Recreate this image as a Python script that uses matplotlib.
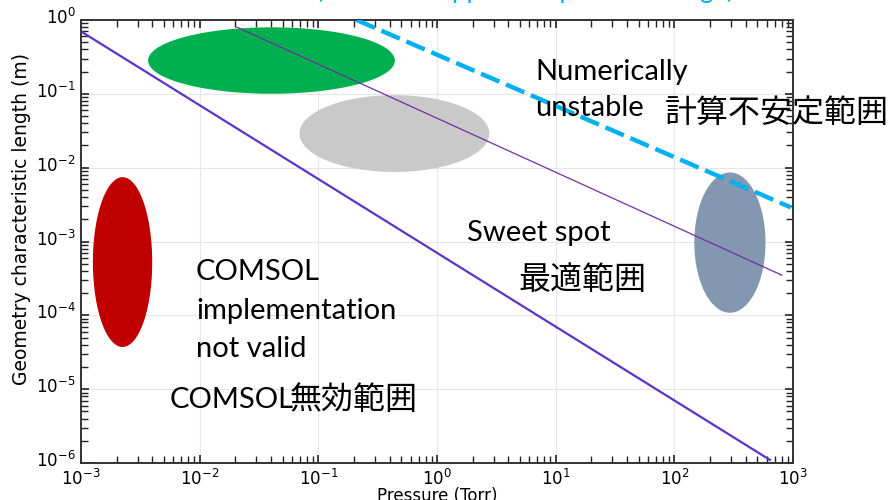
import numpy as np
import matplotlib
matplotlib.use('Agg')
import matplotlib.pyplot as plt
import matplotlib.transforms as mtrans

# ellipse regions: centre (Torr, m) and half axes in decades
region_names = ['not valid', 'large', 'mid', 'high p']
region_cx = [0.00224, 0.0403, 0.4375, 294.0]
region_cy = [5.26e-4, 0.2825, 0.029, 9.66e-4]
region_wdec = [0.25, 1.04, 0.80, 0.30]
region_hdec = [1.15, 0.45, 0.52, 0.95]
region_colors = ['#c00000', '#00b050', '#c9c9c9', '#8497b0']

# boundary lines (pressure in Torr, length in m)
lower_p = [1e-3, 640.0]
lower_L = [0.70, 1.1e-6]
upper_p = [0.0206, 805.0]
upper_L = [0.80, 3.5e-4]
unstable_p = [0.21, 960.0]
unstable_L = [1.0, 2.9e-3]

W, H = 888, 500
fig = plt.figure(figsize=(W / 100, H / 100), dpi=100)
ax = fig.add_axes([81 / W, 1 - 463 / H, (793 - 81) / W, (463 - 20) / H])
ax.set_xscale('log')
ax.set_yscale('log')
ax.set_xlim(1e-3, 1e3)
ax.set_ylim(1e-6, 1e0)

t = np.linspace(0, 2 * np.pi, 200)
for cx, cy, wd, hd, c in zip(region_cx, region_cy, region_wdec, region_hdec, region_colors):
    ex = 10 ** (np.log10(cx) + wd * np.cos(t))
    ey = 10 ** (np.log10(cy) + hd * np.sin(t))
    ax.fill(ex, ey, color=c, lw=0, zorder=2)

ax.plot(lower_p, lower_L, color='#5b35c9', lw=1.6, zorder=3)
ax.plot(upper_p, upper_L, color='#7030a0', lw=0.9, zorder=3)
ax.plot(unstable_p, unstable_L, color='#00b0f0', lw=3.2, dashes=(4.5, 1.6), zorder=3)

ax.grid(True, which='major', color='#e6e6e6', lw=0.8)
ax.set_axisbelow(True)
ax.tick_params(which='both', direction='in', top=True, right=True, color='#222222',
               labelsize=12, pad=4)
ax.tick_params(which='major', length=6, width=1.2)
ax.tick_params(which='minor', length=5, width=1.0)
for s in ax.spines.values():
    s.set_color('#333333')
    s.set_linewidth(1.4)

# y tick labels sit a little above their ticks in the original
shift = mtrans.ScaledTranslation(0, 4 / 100, fig.dpi_scale_trans)
for lab in ax.get_yticklabels():
    lab.set_transform(lab.get_transform() + shift)

ax.set_ylabel('Geometry characteristic length (m)', fontsize=13.5)
ax.yaxis.set_label_coords(-0.07, 0.55)
ax.set_xlabel('Pressure (Torr)', fontsize=12, labelpad=-1,
              family=['Liberation Sans Narrow', 'DejaVu Sans'])


def px(x, y):
    return x / W, 1 - y / H


lat = ['Lato', 'DejaVu Sans']
jp = ['Noto Sans CJK JP', 'DejaVu Sans']
fs_en = 21
fs_jp = 23

fig.text(*px(535, 72), 'Numerically', fontsize=fs_en, family=lat, va='center')
fig.text(*px(535, 108), 'unstable', fontsize=fs_en, family=lat, va='center')
fig.text(*px(665, 113), '計算不安定範囲', fontsize=fs_jp, family=jp, va='center')
fig.text(*px(467, 233), 'Sweet spot', fontsize=fs_en, family=lat, va='center')
fig.text(*px(518, 280), '最適範囲', fontsize=fs_jp, family=jp, va='center')
fig.text(*px(196, 272), 'COMSOL', fontsize=fs_en, family=lat, va='center')
fig.text(*px(196, 311), 'implementation', fontsize=fs_en, family=lat, va='center')
fig.text(*px(196, 349), 'not valid', fontsize=fs_en, family=lat, va='center')
fig.text(*px(170, 400), 'COMSOL', fontsize=fs_en, family=lat, va='center')
fig.text(*px(290, 400), '無効範囲', fontsize=fs_jp, family=jp, va='center')

# title cut off at the top of the slide
fig.text(*px(316, -2), '(COMSOL applicable pressure range)', fontsize=18.5,
         family=lat, color='#00b0f0', va='baseline')

fig.savefig('out.png', dpi=100)
